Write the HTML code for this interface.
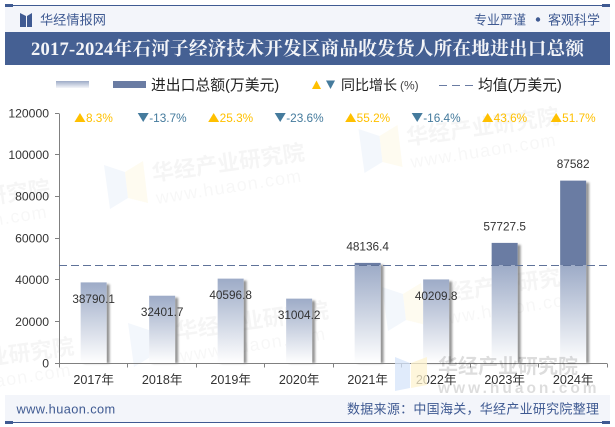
<!DOCTYPE html>
<html lang="zh">
<head>
<meta charset="utf-8">
<title>2017-2024年石河子经济技术开发区商品收发货人所在地进出口总额</title>
<style>
html,body{margin:0;padding:0;background:#fff;}
body{width:615px;height:427px;overflow:hidden;}
svg{display:block;}
text{font-family:"Liberation Sans","Noto Sans CJK SC",sans-serif;}
</style>
</head>
<body>
<svg id="chart" xmlns="http://www.w3.org/2000/svg" width="615" height="427" viewBox="0 0 615 427">
  <defs>
    <linearGradient id="barFade" x1="0" y1="0" x2="0" y2="1">
      <stop offset="0" stop-color="#9dabc7"/>
      <stop offset="1" stop-color="#ffffff"/>
    </linearGradient>
    <linearGradient id="swatchFade" x1="0" y1="0" x2="0" y2="1">
      <stop offset="0" stop-color="#9dabc7"/>
      <stop offset="1" stop-color="#f4f6fa"/>
    </linearGradient>
    <filter id="blurShadow" x="-50%" y="-10%" width="200%" height="120%">
      <feGaussianBlur stdDeviation="1.1"/>
    </filter>
  </defs>

  <rect x="5" y="5" width="605" height="27" fill="#f3f5fa"/>
  <rect x="5" y="5" width="605" height="1" fill="#3f5a92"/>
  <rect x="5" y="4" width="8" height="3" fill="#3f5a92"/>
  <rect x="602" y="4" width="8" height="3" fill="#3f5a92"/>
  <g fill="#3f5a92">
    <polygon points="20,13 26,16 26,27 20,27"/>
    <polygon points="32,13 27,16 27,27 32,27"/>
  </g>
  <text x="40" y="24.5" font-size="13.2" fill="#3f5a92">华经情报网</text>
  <text x="474" y="24.5" font-size="13" fill="#3f5a92">专业严谨</text>
  <circle cx="538" cy="19.5" r="2.2" fill="#3f5a92"/>
  <text x="548" y="24.5" font-size="13" fill="#3f5a92">客观科学</text>

  <rect x="5" y="32" width="605" height="33" fill="#456093"/>
  <text x="31" y="55" font-size="18.6" font-weight="700" fill="#f4f5f8" textLength="553" lengthAdjust="spacing" style="font-family:'Liberation Serif','Noto Serif CJK SC',serif">2017-2024年石河子经济技术开发区商品收发货人所在地进出口总额</text>

  <g id="watermarks">
    <g>
      <polygon points="104,165 125,172 128,198 110,209" fill="#eef4fb" opacity=".7"/>
      <polygon points="125,172 143,161 148,203 128,198" fill="#fdf9ea" opacity=".7"/>
      <text transform="rotate(-8 153 181)" x="153" y="181" font-size="22" font-weight="700" fill="#000" opacity=".035">华经产业研究院</text>
      <text transform="rotate(-8.8 157 204)" x="157" y="204" font-size="18" letter-spacing="1.2" fill="#000" opacity=".028">www.huaon.com</text>
    </g>
    <g transform="translate(254.5 -36)">
      <polygon points="104,165 125,172 128,198 110,209" fill="#eef4fb" opacity=".7"/>
      <polygon points="125,172 143,161 148,203 128,198" fill="#fdf9ea" opacity=".7"/>
      <text transform="rotate(-8 153 181)" x="153" y="181" font-size="22" font-weight="700" fill="#000" opacity=".035">华经产业研究院</text>
      <text transform="rotate(-8.8 157 204)" x="157" y="204" font-size="18" letter-spacing="1.2" fill="#000" opacity=".028">www.huaon.com</text>
    </g>
    <g transform="translate(24 158)">
      <polygon points="104,165 125,172 128,198 110,209" fill="#eef4fb" opacity=".7"/>
      <polygon points="125,172 143,161 148,203 128,198" fill="#fdf9ea" opacity=".7"/>
      <text transform="rotate(-8 153 181)" x="153" y="181" font-size="22" font-weight="700" fill="#000" opacity=".035">华经产业研究院</text>
      <text transform="rotate(-8.8 157 204)" x="157" y="204" font-size="18" letter-spacing="1.2" fill="#000" opacity=".028">www.huaon.com</text>
    </g>
    <g transform="translate(278 122)">
      <polygon points="104,165 125,172 128,198 110,209" fill="#eef4fb" opacity=".7"/>
      <polygon points="125,172 143,161 148,203 128,198" fill="#fdf9ea" opacity=".7"/>
      <text transform="rotate(-8 153 181)" x="153" y="181" font-size="22" font-weight="700" fill="#000" opacity=".035">华经产业研究院</text>
      <text transform="rotate(-8.8 157 204)" x="157" y="204" font-size="18" letter-spacing="1.2" fill="#000" opacity=".028">www.huaon.com</text>
    </g>
    <g transform="translate(-254.5 36)">
      <text transform="rotate(-8 153 181)" x="153" y="181" font-size="22" font-weight="700" fill="#000" opacity=".035">华经产业研究院</text>
      <text transform="rotate(-8.8 157 204)" x="157" y="204" font-size="18" letter-spacing="1.2" fill="#000" opacity=".028">www.huaon.com</text>
    </g>
    <g transform="translate(-230.5 194)">
      <text transform="rotate(-8 153 181)" x="153" y="181" font-size="22" font-weight="700" fill="#000" opacity=".035">华经产业研究院</text>
      <text transform="rotate(-8.8 157 204)" x="157" y="204" font-size="18" letter-spacing="1.2" fill="#000" opacity=".028">www.huaon.com</text>
    </g>
  </g>

  <g id="legend">
    <rect x="56" y="81" width="33" height="7" fill="url(#swatchFade)"/>
    <rect x="113" y="81" width="33" height="7" fill="#6a7ca3"/>
    <text x="151" y="90" font-size="14.8" fill="#222">进出口总额(万美元)</text>
    <polygon points="312,89 321,89 316.5,80.5" fill="#ffc000"/>
    <polygon points="326,80.5 335,80.5 330.5,89" fill="#457b9d"/>
    <text x="341" y="90" font-size="14" fill="#222">同比增长</text>
    <text x="400" y="89.5" font-size="12" fill="#444">(%)</text>
    <line x1="439" y1="85.5" x2="474" y2="85.5" stroke="#6a7ca3" stroke-width="1" stroke-dasharray="8 5"/>
    <text x="478" y="90" font-size="14.8" fill="#222">均值(万美元)</text>
  </g>

  <g id="plot"></g>

  <rect x="5" y="395" width="605" height="27" fill="#f3f5fa"/>
  <rect x="5" y="422" width="605" height="1" fill="#3f5a92"/>
  <rect x="5" y="421" width="8" height="3" fill="#3f5a92"/>
  <rect x="602" y="421" width="8" height="3" fill="#3f5a92"/>
  <text x="16.5" y="413.5" font-size="12.8" letter-spacing=".4" fill="#3f5a92">www.huaon.com</text>
  <text x="347" y="413.5" font-size="13" fill="#3f5a92" textLength="252" lengthAdjust="spacing">数据来源：中国海关，华经产业研究院整理</text>
  <g>
    <polygon points="395,357 410,363 410,388 395,391" fill="#d5e4fa" opacity=".75"/>
    <polygon points="411,363 427,357 427,385 411,388" fill="#fdf3cf" opacity=".75"/>
    <text x="438" y="373" font-size="20" font-weight="700" fill="#000" opacity=".13">华经产业研究院</text>
    <text x="438" y="393" font-size="15.5" font-weight="700" letter-spacing="3" fill="#000" opacity=".13">www.huaon.com</text>
  </g>
</svg>
<script>
const categories = ['2017年', '2018年', '2019年', '2020年', '2021年', '2022年', '2023年', '2024年'];
const totals = [38790.1, 32401.7, 40596.8, 31004.2, 48136.4, 40209.8, 57727.5, 87582];
const growth = [8.3, -13.7, 25.3, -23.6, 55.2, -16.4, 43.6, 51.7];
const yTicks = [0, 20000, 40000, 60000, 80000, 100000, 120000];
const meanValue = 47056;

const SVG_NS = 'http://www.w3.org/2000/svg';
const plot = document.getElementById('plot');
const left = 59, right = 607, top_ = 113, base = 363.3, yMax = 120000;
const band = (right - left) / categories.length;
const barW = 26;
function xScale(i) { return left + band * (i + 0.5) + 0.4; }
function yScale(v) { return base - (v / yMax) * (base - top_); }
function crisp(p) { return Math.floor(p) + 0.5; }
function make(tag, attrs, parent) {
  const el = document.createElementNS(SVG_NS, tag);
  for (const k in attrs) el.setAttribute(k, attrs[k]);
  (parent || plot).appendChild(el);
  return el;
}

// Bars
categories.forEach(function (cat, i) {
  const cx = xScale(i), x = cx - barW / 2;
  const yTop = yScale(totals[i]), yMean = yScale(meanValue);
  const g = make('g', {});
  
  
  const shadow = make('rect', { x: x + 3, y: yTop + 2, width: barW, height: base - yTop - 2, fill: '#555', opacity: 0.62, filter: 'url(#blurShadow)' }, g);
  
  
  const cover = make('rect', { x: x, y: yTop - 1, width: barW, height: base - yTop + 1, fill: '#fff' }, g);
  
  
  const fadeTop = Math.max(yTop, yMean);
  const fade = make('rect', { x: x, y: fadeTop, width: barW, height: base - fadeTop, fill: 'url(#barFade)' }, g);
  
  
  if (yTop < yMean) {
    const solid = make('rect', { x: x, y: yTop, width: barW, height: yMean - yTop, fill: '#6a7ca3' }, g);
    
    
  }
});

// Axes
const axisColor = '#808080';
const yAxis = make('line', { x1: crisp(left), y1: crisp(yScale(yMax)), x2: crisp(left), y2: crisp(base), stroke: axisColor, 'stroke-width': 1 });


const xAxis = make('line', { x1: left, y1: crisp(base), x2: right, y2: crisp(base), stroke: axisColor, 'stroke-width': 1 });



yTicks.forEach(function (v) {
  const y = yScale(v);
  const tick = make('line', { x1: left - 4, y1: crisp(y), x2: left, y2: crisp(y), stroke: axisColor, 'stroke-width': 1 });
  
  
  const label = make('text', { x: 49, y: y + 4.3, 'text-anchor': 'end', 'font-size': 12.2, fill: '#333' });
  
  
  label.textContent = String(v);
});

for (let i = 0; i <= categories.length; i++) {
  const x = crisp(left + band * i);
  const tick = make('line', { x1: x, y1: crisp(base), x2: x, y2: crisp(base) + 4, stroke: axisColor, 'stroke-width': 1 });
  
  
}

categories.forEach(function (cat, i) {
  const label = make('text', { x: xScale(i), y: 384, 'text-anchor': 'middle', 'font-size': 12.6, fill: '#333' });
  
  
  label.textContent = cat;
});

// Mean line
const meanLine = make('line', { x1: left, y1: crisp(yScale(meanValue)), x2: right + 2, y2: crisp(yScale(meanValue)), stroke: '#5f7299', 'stroke-width': 1, 'stroke-dasharray': '8 4' });



// Value labels
totals.forEach(function (v, i) {
  const yTop = yScale(v);
  const above = v > meanValue;
  const label = make('text', { x: xScale(i), y: above ? yTop - 12.5 : yTop + 20.5, 'text-anchor': 'middle', 'font-size': 11.8, fill: '#333' });
  
  
  label.textContent = String(v);
});

// Growth labels
growth.forEach(function (g, i) {
  const up = g >= 0;
  const color = up ? '#ffc000' : '#457b9d';
  const label = make('text', { x: 0, y: 122, 'font-size': 11.8, fill: color });
  
  
  label.textContent = g + '%';
  const tw = label.getComputedTextLength();
  const start = xScale(i) - (tw + 11.5) / 2;
  label.setAttribute('x', start + 11.5);
  const pts = up
    ? [[start, 122], [start + 11, 122], [start + 5.5, 113]]
    : [[start, 113], [start + 11, 113], [start + 5.5, 122]];
  const tri = make('polygon', { points: pts.map(function (p) { return p.join(','); }).join(' '), fill: color });
  
  
});
</script>
</body>
</html>
